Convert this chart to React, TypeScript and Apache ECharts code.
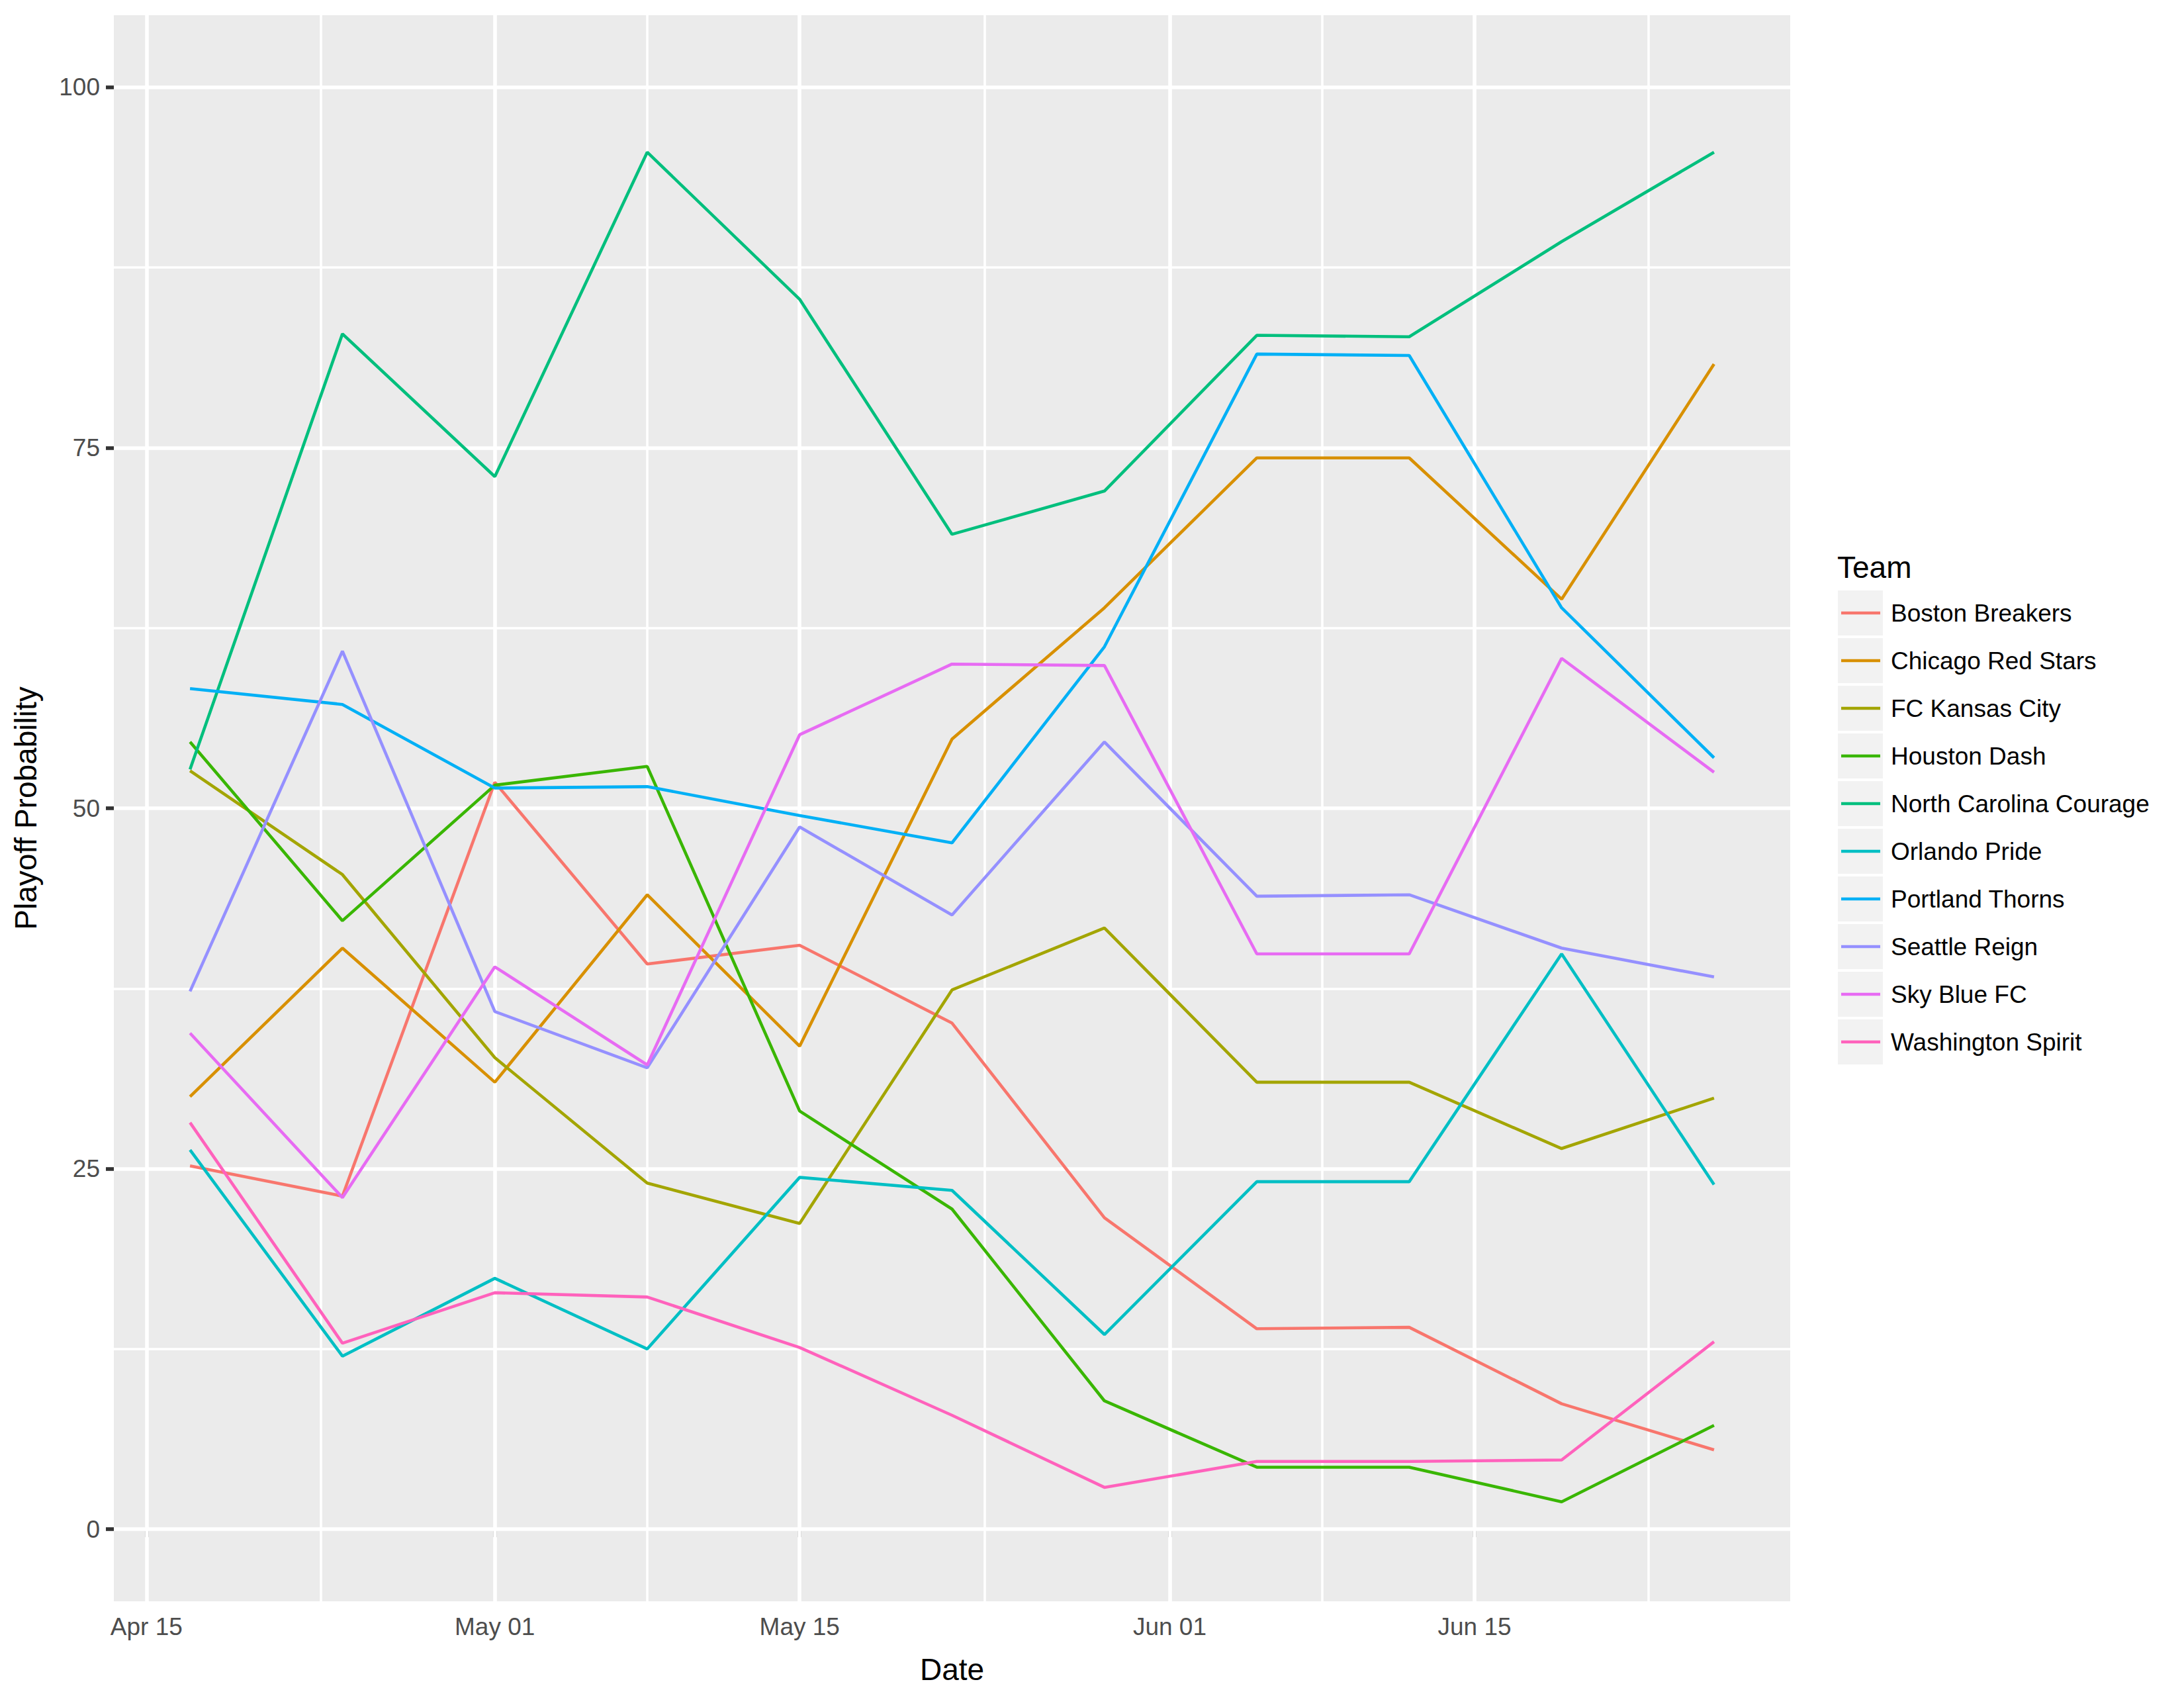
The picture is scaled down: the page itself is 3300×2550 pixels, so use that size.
import React, { useEffect, useRef } from "react";
import * as echarts from "echarts";

const dates = [
  "2017-04-17", "2017-04-24", "2017-05-01", "2017-05-08", "2017-05-15", "2017-05-22",
  "2017-05-29", "2017-06-05", "2017-06-12", "2017-06-19", "2017-06-26",
];

const teams = [
  "Boston Breakers", "Chicago Red Stars", "FC Kansas City", "Houston Dash",
  "North Carolina Courage", "Orlando Pride", "Portland Thorns", "Seattle Reign",
  "Sky Blue FC", "Washington Spirit",
];

const bostonBreakers = [25.2, 23.1, 51.8, 39.2, 40.5, 35.1, 21.6, 13.9, 14.0, 8.7, 5.5];
const chicagoRedStars = [30.0, 40.3, 31.0, 44.0, 33.5, 54.8, 63.9, 74.3, 74.3, 64.5, 80.8];
const fcKansasCity = [52.6, 45.4, 32.7, 24.0, 21.2, 37.4, 41.7, 31.0, 31.0, 26.4, 29.9];
const houstonDash = [54.6, 42.2, 51.6, 52.9, 29.0, 22.2, 8.9, 4.3, 4.3, 1.9, 7.2];
const northCarolinaCourage = [52.7, 82.9, 73.0, 95.5, 85.3, 69.0, 72.0, 82.8, 82.7, 89.3, 95.5];
const orlandoPride = [26.3, 12.0, 17.4, 12.5, 24.4, 23.5, 13.5, 24.1, 24.1, 39.9, 23.9];
const portlandThorns = [58.3, 57.2, 51.4, 51.5, 49.5, 47.6, 61.2, 81.5, 81.4, 63.9, 53.5];
const seattleReign = [37.3, 60.9, 35.9, 32.0, 48.7, 42.6, 54.6, 43.9, 44.0, 40.3, 38.3];
const skyBlueFC = [34.4, 23.0, 39.0, 32.2, 55.1, 60.0, 59.9, 39.9, 39.9, 60.4, 52.5];
const washingtonSpirit = [28.2, 12.9, 16.4, 16.1, 12.6, 7.9, 2.9, 4.7, 4.7, 4.8, 13.0];

const seriesValues = [
  bostonBreakers, chicagoRedStars, fcKansasCity, houstonDash, northCarolinaCourage,
  orlandoPride, portlandThorns, seattleReign, skyBlueFC, washingtonSpirit,
];

const colors = [
  "#F8766D", "#D89000", "#A3A500", "#39B600", "#00BF7D",
  "#00BFC4", "#00B0F6", "#9590FF", "#E76BF3", "#FF62BC",
];

const xMajorDates = ["2017-04-15", "2017-05-01", "2017-05-15", "2017-06-01", "2017-06-15"];
const xMinorDates = ["2017-04-23", "2017-05-08", "2017-05-23T12", "2017-06-08", "2017-06-23"];
const yMajorTicks = [0, 25, 50, 75, 100];
const yMinorTicks = [12.5, 37.5, 62.5, 87.5];

const MONTHS = ["Jan", "Feb", "Mar", "Apr", "May", "Jun", "Jul", "Aug", "Sep", "Oct", "Nov", "Dec"];

function dayNum(s: string): number {
  const [datePart, hourPart] = s.split("T");
  const [y, m, d] = datePart.split("-").map(Number);
  const h = hourPart ? Number(hourPart) : 0;
  return Date.UTC(y, m - 1, d, h) / 86400000;
}

function fmtDay(v: number): string {
  const dt = new Date(Math.round(v) * 86400000);
  const dd = dt.getUTCDate();
  return MONTHS[dt.getUTCMonth()] + " " + (dd < 10 ? "0" + dd : String(dd));
}

const FONT = "'Liberation Sans', Arial, Helvetica, sans-serif";

export default function App() {
  const ref = useRef<HTMLDivElement>(null);

  useEffect(() => {
    if (!ref.current) return;
    const chart = echarts.init(ref.current, null, { renderer: "svg" });

    const xDays = dates.map(dayNum);
    const dataMin = Math.min(...xDays);
    const dataMax = Math.max(...xDays);
    const pad = (dataMax - dataMin) * 0.05;
    const xMajor = xMajorDates.map(dayNum);
    const xMinor = xMinorDates.map(dayNum);

    const gridLeft = 172;
    const gridTop = 23;
    const gridWidth = 2533;
    const gridHeight = 2399;

    const MAJOR_W = 5.6;
    const MINOR_W = 3.6;
    const DATA_W = 4.6;

    const lineSeries = teams.map((name, i) => ({
      name,
      type: "line",
      z: 10,
      showSymbol: false,
      symbol: "none",
      color: colors[i],
      lineStyle: { color: colors[i], width: DATA_W },
      data: xDays.map((x, j) => [x, seriesValues[i][j]]),
    }));

    const gridSeries = {
      name: "__grid",
      type: "line",
      z: 1,
      data: [],
      silent: true,
      markLine: {
        silent: true,
        animation: false,
        symbol: ["none", "none"],
        label: { show: false },
        emphasis: { disabled: true },
        lineStyle: { color: "#FFFFFF", type: "solid" },
        data: [
          ...xMinor.map((v) => ({ xAxis: v, lineStyle: { color: "#FFFFFF", width: MINOR_W, type: "solid" } })),
          ...yMinorTicks.map((v) => ({ yAxis: v, lineStyle: { color: "#FFFFFF", width: MINOR_W, type: "solid" } })),
          ...xMajor.map((v) => ({ xAxis: v, lineStyle: { color: "#FFFFFF", width: MAJOR_W, type: "solid" } })),
          ...yMajorTicks.map((v) => ({ yAxis: v, lineStyle: { color: "#FFFFFF", width: MAJOR_W, type: "solid" } })),
        ],
      },
    };

    const legendTop = 890;
    const keySpacing = 72;
    const keyRects = teams.map((_, i) => ({
      type: "rect",
      silent: true,
      z: 0,
      shape: { x: 2777, y: legendTop + 2 + i * keySpacing, width: 68, height: 68 },
      style: { fill: "#F2F2F2" },
    }));

    chart.setOption({
      animation: false,
      backgroundColor: "#FFFFFF",
      textStyle: { fontFamily: FONT },
      grid: {
        left: gridLeft,
        top: gridTop,
        width: gridWidth,
        height: gridHeight,
        show: true,
        backgroundColor: "#EBEBEB",
        borderWidth: 0,
        containLabel: false,
      },
      xAxis: {
        type: "value",
        min: dataMin - pad,
        max: dataMax + pad,
        name: "Date",
        nameLocation: "middle",
        nameGap: 80,
        nameTextStyle: { color: "#000000", fontSize: 46, fontFamily: FONT },
        axisLine: { show: false },
        splitLine: { show: false },
        minorSplitLine: { show: false },
        axisTick: {
          show: true,
          length: 12,
          customValues: xMajor,
          lineStyle: { color: "#333333", width: MAJOR_W },
        },
        axisLabel: {
          show: true,
          customValues: xMajor,
          margin: 20,
          color: "#4D4D4D",
          fontSize: 37,
          fontFamily: FONT,
          formatter: (v: number) => fmtDay(v),
        },
      },
      yAxis: {
        type: "value",
        min: -5,
        max: 105,
        name: "Playoff Probability",
        nameLocation: "middle",
        nameRotate: 90,
        nameGap: 110,
        nameTextStyle: { color: "#000000", fontSize: 46, fontFamily: FONT },
        axisLine: { show: false },
        splitLine: { show: false },
        minorSplitLine: { show: false },
        axisTick: {
          show: true,
          length: 12,
          customValues: yMajorTicks,
          lineStyle: { color: "#333333", width: MAJOR_W },
        },
        axisLabel: {
          show: true,
          customValues: yMajorTicks,
          margin: 21,
          color: "#4D4D4D",
          fontSize: 37,
          fontFamily: FONT,
        },
      },
      legend: {
        show: true,
        orient: "vertical",
        left: 2782,
        top: legendTop,
        padding: 0,
        itemGap: 0,
        itemWidth: 59,
        itemHeight: DATA_W,
        icon: "rect",
        selectedMode: false,
        data: teams,
        textStyle: {
          color: "#000000",
          fontSize: 37,
          fontFamily: FONT,
          lineHeight: 72,
          height: 72,
          padding: [0, 0, 0, 11],
        },
      },
      graphic: [
        ...keyRects,
        {
          type: "text",
          left: 2776,
          top: 834,
          silent: true,
          style: { text: "Team", fill: "#000000", fontSize: 46, fontFamily: FONT },
        },
      ],
      series: [gridSeries, ...lineSeries],
    });

    return () => {
      chart.dispose();
    };
  }, []);

  return (
    <div
      ref={ref}
      style={{ position: "absolute", left: 0, top: 0, width: 3300, height: 2550, background: "#FFFFFF" }}
    />
  );
}
